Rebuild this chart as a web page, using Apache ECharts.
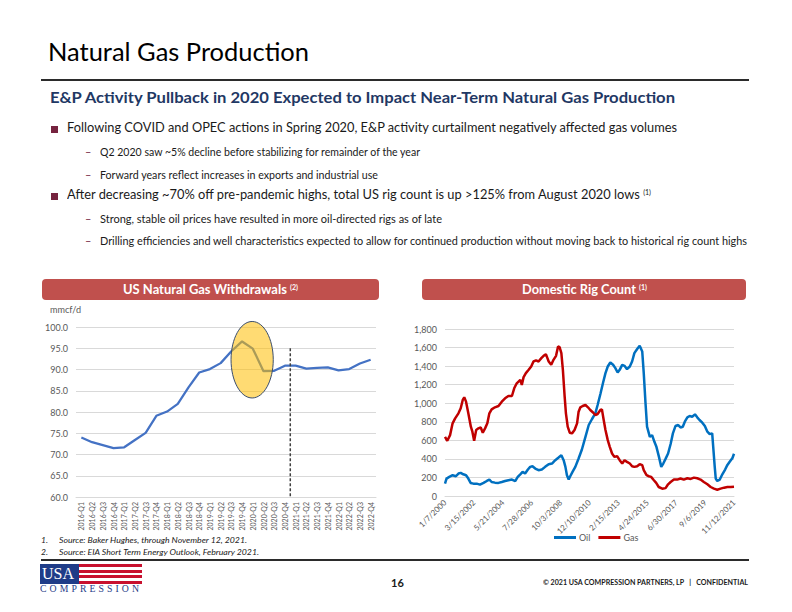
<!DOCTYPE html>
<html>
<head>
<meta charset="utf-8">
<script src="https://cdn.jsdelivr.net/npm/echarts@6/dist/echarts.min.js"></script>
<style>
  html, body { margin:0; padding:0; background:#fff; }
  #page { position:relative; width:792px; height:612px; overflow:hidden; font-family: Lato, "Open Sans", sans-serif; color:#1a1a1a; }
  #chart { position:absolute; left:0; top:0; width:792px; height:612px; }
  .t { position:absolute; white-space:nowrap; line-height:1; transform-origin:left center; z-index:2; }
  .rule { position:absolute; background:#2b2b2b; z-index:2; }
  .sq { position:absolute; width:7px; height:7px; background:#76233F; z-index:2; }
  .dash { position:absolute; color:#76233F; font-size:11px; line-height:1; z-index:2; }
  .hdr { position:absolute; background:#C0504D; border-radius:4px; z-index:1; }
  sup { font-size:0.55em; vertical-align:0.55em; line-height:0; }
</style>
</head>
<body>
<div id="page">
  <div id="chart"></div>

  <div class="t" data-fit="261" style="left:48px; top:39px; font-size:25px; color:#000;">Natural Gas Production</div>
  <div class="rule" style="left:41px; top:79px; width:708px; height:2px;"></div>
  <div class="t" data-fit="625" style="left:50px; top:89.5px; font-size:15px; font-weight:700; color:#1F3864;">E&amp;P Activity Pullback in 2020 Expected to Impact Near-Term Natural Gas Production</div>

  <div class="sq" style="left:51px; top:125.5px;"></div>
  <div class="t" data-fit="610" style="left:67px; top:121.4px; font-size:13px;">Following COVID and OPEC actions in Spring 2020, E&amp;P activity curtailment negatively affected gas volumes</div>
  <div class="dash" style="left:85px; top:145.5px;">–</div>
  <div class="t" data-fit="320" style="left:100px; top:145.5px; font-size:11px;">Q2 2020 saw ~5% decline before stabilizing for remainder of the year</div>
  <div class="dash" style="left:85px; top:168.5px;">–</div>
  <div class="t" data-fit="278" style="left:100px; top:168.5px; font-size:11px;">Forward years reflect increases in exports and industrial use</div>

  <div class="sq" style="left:51px; top:192.5px;"></div>
  <div class="t" data-fit="584" style="left:67px; top:188.4px; font-size:13px;">After decreasing ~70% off pre-pandemic highs, total US rig count is up &gt;125% from August 2020 lows <sup>(1)</sup></div>
  <div class="dash" style="left:85px; top:212.5px;">–</div>
  <div class="t" data-fit="342" style="left:100px; top:212.5px; font-size:11px;">Strong, stable oil prices have resulted in more oil-directed rigs as of late</div>
  <div class="dash" style="left:85px; top:234.5px;">–</div>
  <div class="t" data-fit="647" style="left:100px; top:234.5px; font-size:11px;">Drilling efficiencies and well characteristics expected to allow for continued production without moving back to historical rig count highs</div>

  <div class="hdr" style="left:42px; top:278.5px; width:337px; height:21px;"></div>
  <div class="t" data-fit="175" style="left:123px; top:284px; font-size:12.5px; font-weight:700; color:#fff;">US Natural Gas Withdrawals <sup>(2)</sup></div>
  <div class="hdr" style="left:422px; top:278.5px; width:324px; height:21px;"></div>
  <div class="t" data-fit="125" style="left:522px; top:284px; font-size:12.5px; font-weight:700; color:#fff;">Domestic Rig Count <sup>(1)</sup></div>

  <div class="t" data-fit="31" style="left:50px; top:304.7px; font-size:9px; color:#595959;">mmcf/d</div>

  <div class="t" style="left:41px; top:536px; font-size:8.5px; font-style:italic;">1.</div>
  <div class="t" data-fit="188" style="left:59px; top:536px; font-size:8.5px; font-style:italic;">Source: Baker Hughes, through November 12, 2021.</div>
  <div class="t" style="left:41px; top:547.5px; font-size:8.5px; font-style:italic;">2.</div>
  <div class="t" data-fit="200" style="left:59px; top:547.5px; font-size:8.5px; font-style:italic;">Source: EIA Short Term Energy Outlook, February 2021.</div>

  <div class="rule" style="left:41px; top:559px; width:708px; height:2px;"></div>

  <div style="position:absolute; left:40px; top:564px; width:39px; height:20px; background:#1F3C88; z-index:2;"></div>
  <div class="t" style="left:42px; top:566px; font-size:16px; color:#fff; font-family:'Liberation Serif','DejaVu Serif',serif;">USA</div>
  <div style="position:absolute; left:79px; top:564px; width:63px; height:20px; z-index:2; background:repeating-linear-gradient(to bottom, #C8102E 0px, #C8102E 2.86px, #fff 2.86px, #fff 5.72px);"></div>
  <div class="t" data-fit="102" style="left:40px; top:585px; font-size:9.5px; color:#1F3C88; letter-spacing:3px; font-family:'Liberation Serif','DejaVu Serif',serif;">COMPRESSION</div>

  <div class="t" style="left:391px; top:577px; font-size:11px; font-weight:700;">16</div>
  <div class="t" data-fit="205" style="left:543px; top:577.5px; font-size:8px; font-weight:700;">© 2021 USA COMPRESSION PARTNERS, LP &nbsp;&nbsp;|&nbsp;&nbsp; CONFIDENTIAL</div>
</div>

<script>
// ---------- Data: US Natural Gas Withdrawals (mmcf/d) ----------
const quarters = ['2016-Q1','2016-Q2','2016-Q3','2016-Q4','2017-Q1','2017-Q2','2017-Q3','2017-Q4',
  '2018-Q1','2018-Q2','2018-Q3','2018-Q4','2019-Q1','2019-Q2','2019-Q3','2019-Q4',
  '2020-Q1','2020-Q2','2020-Q3','2020-Q4','2021-Q1','2021-Q2','2021-Q3','2021-Q4',
  '2022-Q1','2022-Q2','2022-Q3','2022-Q4'];
const withdrawals = [74.0, 72.9, 72.2, 71.5, 71.7, 73.4, 75.1, 79.1,
  80.1, 81.9, 85.8, 89.3, 90.1, 91.5, 94.3, 96.6,
  94.9, 89.6, 89.7, 90.9, 90.9, 90.2, 90.4, 90.5,
  89.8, 90.1, 91.4, 92.3];
const withdrawalTicks = [60, 65, 70, 75, 80, 85, 90, 95, 100];
// forecast divider between 2020-Q4 and 2021-Q1 (in category slots)
const forecastDivider = [[20, 95], [20, 60]];
// highlighted region (category slots / mmcf/d)
const highlightSlots = [14.47, 18.41];
const highlightValues = [83.3, 101.3];

// ---------- Data: Domestic Rig Count (weekly, week index from 1/7/2000) ----------
const rigDateLabels = ['1/7/2000','3/15/2002','5/21/2004','7/28/2006','10/3/2008','12/10/2010',
  '2/15/2013','4/24/2015','6/30/2017','9/6/2019','11/12/2021'];
const rigLabelWeeks = 114;
const rigTicks = [0, 200, 400, 600, 800, 1000, 1200, 1400, 1600, 1800];
const oilRigs = [[0,133],[6,188],[17,206],[30,224],[43,213],[53,242],[62,249],[72,234],[83,224],[92,188],
  [101,141],[112,133],[125,133],[138,123],[152,141],[165,162],[175,177],[184,151],[197,144],[211,141],
  [224,151],[237,162],[250,170],[264,177],[277,160],[287,206],[297,234],[306,260],[316,242],[327,285],
  [336,314],[345,321],[356,296],[369,278],[382,285],[395,314],[409,343],[422,350],[435,386],[448,415],
  [459,440],[468,386],[475,314],[481,224],[488,177],[494,213],[503,260],[514,314],[527,404],[540,501],
  [554,638],[567,765],[580,830],[593,890],[602,981],[613,1100],[623,1216],[633,1324],[642,1396],[652,1439],
  [663,1414],[672,1378],[681,1331],[689,1360],[699,1414],[708,1403],[718,1367],[729,1396],[738,1450],[747,1540],
  [758,1584],[768,1620],[778,1558],[784,1324],[791,999],[797,747],[808,638],[817,656],[826,584],[834,530],
  [844,422],[853,314],[861,350],[870,400],[880,458],[890,560],[899,675],[909,754],[920,765],[929,739],
  [938,747],[946,801],[956,848],[965,862],[975,855],[986,880],[995,848],[1004,819],[1015,790],[1025,754],
  [1035,693],[1044,667],[1054,675],[1058,530],[1064,314],[1068,188],[1074,162],[1084,177],[1094,234],[1105,285],
  [1114,335],[1123,370],[1134,410],[1140,455]];
const gasRigs = [[0,638],[9,595],[20,656],[30,783],[40,837],[53,891],[62,945],[70,1035],[76,1064],[83,1017],
  [92,891],[102,747],[108,693],[115,595],[123,711],[132,729],[141,739],[149,682],[158,729],[167,783],
  [175,891],[184,934],[197,956],[211,970],[224,1017],[237,1053],[250,1078],[264,1078],[273,1161],[283,1215],
  [297,1252],[303,1198],[310,1281],[319,1324],[330,1360],[340,1396],[349,1450],[359,1461],[369,1450],[380,1486],
  [389,1511],[398,1529],[409,1450],[419,1414],[428,1468],[438,1511],[446,1612],[452,1605],[459,1540],[465,1360],
  [472,1071],[477,891],[484,747],[492,682],[501,675],[511,711],[521,783],[527,909],[534,956],[543,970],
  [554,981],[564,956],[573,927],[584,900],[593,873],[602,884],[613,927],[619,934],[626,819],[633,711],
  [642,602],[650,530],[659,458],[668,422],[679,429],[689,386],[699,350],[708,386],[718,368],[729,350],
  [738,321],[747,314],[758,321],[768,343],[778,332],[784,278],[795,224],[804,213],[813,206],[824,170],
  [833,141],[843,97],[857,79],[870,85],[880,126],[890,151],[903,177],[916,177],[929,188],[942,177],
  [956,191],[969,184],[982,198],[995,191],[1008,177],[1021,151],[1035,126],[1048,97],[1061,79],[1074,68],
  [1087,79],[1101,90],[1114,97],[1127,97],[1140,100]];

// ---------- Chart ----------
const FONT = 'Lato, "Open Sans", sans-serif';
const LABEL = '#595959';
const GRIDC = '#D9D9D9';
const chart = echarts.init(document.getElementById('chart'), null, { renderer: 'svg' });

const option = {
  animation: false,
  textStyle: { fontFamily: FONT },
  grid: [
    { left: 76, top: 327, width: 300, height: 170 },
    { left: 445, top: 329, width: 289, height: 167 }
  ],
  xAxis: [
    { type: 'category', gridIndex: 0, data: quarters, boundaryGap: true,
      axisLine: { lineStyle: { color: GRIDC } }, axisTick: { show: false },
      axisLabel: { rotate: 90, fontSize: 7, color: LABEL, margin: 5, interval: 0, fontFamily: FONT } },
    { type: 'value', gridIndex: 0, min: 0, max: quarters.length, show: false },
    { type: 'value', gridIndex: 1, min: 0, max: rigLabelWeeks * (rigDateLabels.length - 1), interval: rigLabelWeeks,
      axisLine: { lineStyle: { color: GRIDC } }, axisTick: { show: false }, splitLine: { show: false },
      axisLabel: { rotate: 45, fontSize: 8, color: LABEL, margin: 5, fontFamily: FONT,
        formatter: v => rigDateLabels[Math.round(v / rigLabelWeeks)] || '' } }
  ],
  yAxis: [
    { type: 'value', gridIndex: 0, min: withdrawalTicks[0], max: withdrawalTicks[withdrawalTicks.length - 1],
      interval: withdrawalTicks[1] - withdrawalTicks[0],
      axisLine: { show: false }, axisTick: { show: false },
      splitLine: { lineStyle: { color: GRIDC, width: 1 } },
      axisLabel: { fontSize: 9, color: LABEL, margin: 8, fontFamily: FONT, formatter: v => v.toFixed(1) } },
    { type: 'value', gridIndex: 1, min: rigTicks[0], max: rigTicks[rigTicks.length - 1],
      interval: rigTicks[1] - rigTicks[0],
      axisLine: { show: false }, axisTick: { show: false },
      splitLine: { lineStyle: { color: GRIDC, width: 1 } },
      axisLabel: { fontSize: 9, color: LABEL, margin: 8, fontFamily: FONT,
        formatter: v => v.toLocaleString('en-US') } }
  ],
  legend: {
    data: ['Oil', 'Gas'], left: 549, top: 528, itemWidth: 22, itemHeight: 3, icon: 'rect', itemGap: 8,
    textStyle: { fontSize: 9, color: LABEL, fontFamily: FONT, padding: [0, 0, 0, -2] }
  },
  series: [
    { name: 'Withdrawals', type: 'line', xAxisIndex: 0, yAxisIndex: 0, data: withdrawals,
      symbol: 'none', lineStyle: { color: '#4472C4', width: 2.25 }, itemStyle: { color: '#4472C4' }, z: 3 },
    { name: 'Forecast', type: 'line', xAxisIndex: 1, yAxisIndex: 0, data: forecastDivider,
      symbol: 'none', lineStyle: { color: '#404040', width: 1.5, type: [3, 2] }, z: 4 },
    { name: 'Oil', type: 'line', xAxisIndex: 2, yAxisIndex: 1, data: oilRigs,
      symbol: 'none', lineStyle: { color: '#0070C0', width: 2.5 }, itemStyle: { color: '#0070C0' } },
    { name: 'Gas', type: 'line', xAxisIndex: 2, yAxisIndex: 1, data: gasRigs,
      symbol: 'none', lineStyle: { color: '#C00000', width: 2.5 }, itemStyle: { color: '#C00000' } }
  ]
};
chart.setOption(option);

// highlight ellipse placed through the chart's own scales
const pA = chart.convertToPixel({ seriesIndex: 1 }, [highlightSlots[0], highlightValues[1]]);
const pB = chart.convertToPixel({ seriesIndex: 1 }, [highlightSlots[1], highlightValues[0]]);
chart.setOption({
  graphic: [{
    type: 'ellipse', z: 100,
    shape: { cx: (pA[0] + pB[0]) / 2, cy: (pA[1] + pB[1]) / 2, rx: Math.abs(pB[0] - pA[0]) / 2, ry: Math.abs(pB[1] - pA[1]) / 2 },
    style: { fill: 'rgba(255,190,0,0.55)', stroke: '#3B4E6E', lineWidth: 1 }
  }]
});

// fit slide text widths to the reference layout
function fitTexts() {
  document.querySelectorAll('[data-fit]').forEach(el => {
    el.style.transform = 'none';
    const w = el.getBoundingClientRect().width;
    const target = +el.dataset.fit;
    if (w > 0) el.style.transform = 'scaleX(' + (target / w) + ')';
  });
}
fitTexts();
if (document.fonts && document.fonts.ready) document.fonts.ready.then(fitTexts);
</script>
</body>
</html>
